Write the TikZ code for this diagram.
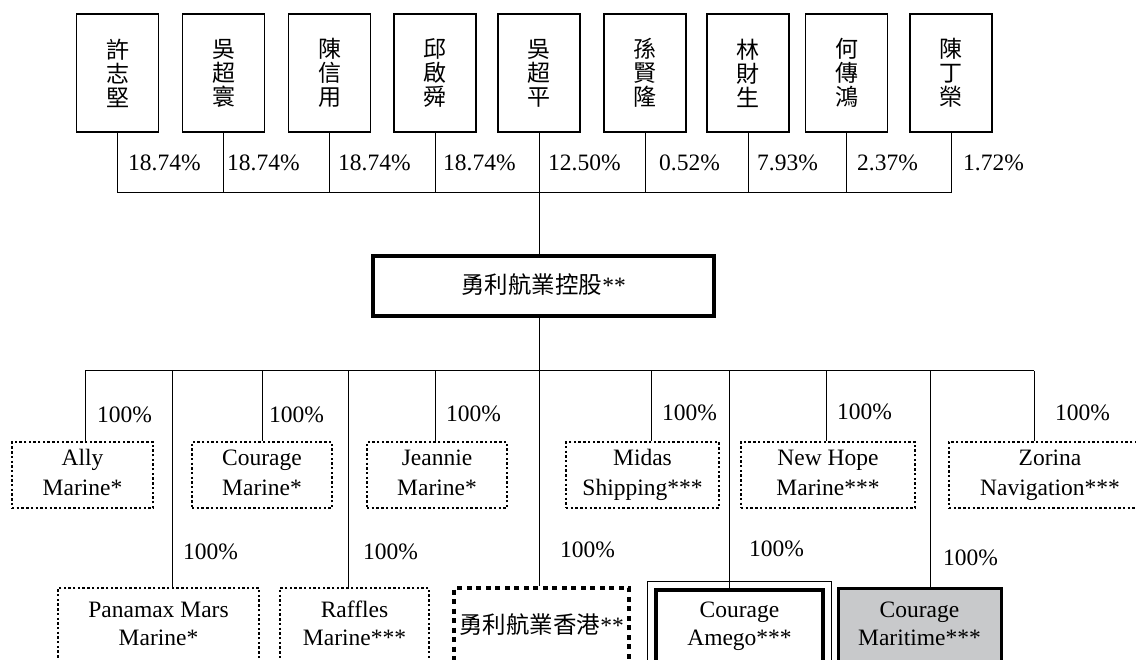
\documentclass[tikz,border=0pt]{standalone}
\usepackage{fontspec}
\setmainfont{Liberation Serif}
\newfontfamily\cjk{Noto Sans CJK TC}
\usepackage{tikz}
\usetikzlibrary{calc}
\definecolor{shade}{RGB}{200,201,203}
\tikzstyle{person}=[draw, line width=1.3pt, minimum width=82pt, minimum height=118pt, inner sep=0pt, align=center, font=\cjk\fontsize{23}{24}\selectfont]
\tikzstyle{pct}=[anchor=west, inner sep=0pt, font=\fontsize{23.5}{28}\selectfont]
\tikzstyle{firm}=[inner sep=0pt, align=center, font=\fontsize{23.5}{28}\selectfont, execute at end node={\rule[-5pt]{0pt}{5pt}}]
\tikzstyle{sub}=[firm, draw, line width=2.5pt, dash pattern=on 2.4pt off 2.3pt, minimum height=66pt, font=\fontsize{23.5}{30}\selectfont]
\tikzstyle{lowsub}=[sub, minimum height=76pt, font=\fontsize{23.5}{28}\selectfont]
\tikzstyle{link}=[line width=1pt]

\begin{document}
\begin{tikzpicture}[x=1pt, y=-1pt]
\path[use as bounding box, clip] (0,0) rectangle (1136,660);
% the shareholders
\node[person] (P1) at (117.5,73) {許\\志\\堅};
\node[person] (P2) at (223.5,73) {吳\\超\\寰};
\node[person] (P3) at (329.5,73) {陳\\信\\用};
\node[person] (P4) at (435,73) {邱\\啟\\舜};
\node[person] (P5) at (539,73) {吳\\超\\平};
\node[person] (P6) at (645,73) {孫\\賢\\隆};
\node[person] (P7) at (748,73) {林\\財\\生};
\node[person] (P8) at (846.5,73) {何\\傳\\鴻};
\node[person] (P9) at (951,73) {陳\\丁\\榮};
% the stakes
\node[pct] (S1) at (128,163) {18.74\%};
\node[pct] (S2) at (227,163) {18.74\%};
\node[pct] (S3) at (338,163) {18.74\%};
\node[pct] (S4) at (443,163) {18.74\%};
\node[pct] (S5) at (548,163) {12.50\%};
\node[pct] (S6) at (659,163) {0.52\%};
\node[pct] (S7) at (757,163) {7.93\%};
\node[pct] (S8) at (857,163) {2.37\%};
\node[pct] (S9) at (963,163) {1.72\%};
\coordinate (TB) at (0,193);
\draw[link] (P1.south) -- (P1.south |- TB) -- (P9.south |- TB) -- (P9.south);
\draw[link] (P2.south) -- (P2.south |- TB);
\draw[link] (P3.south) -- (P3.south |- TB);
\draw[link] (P4.south) -- (P4.south |- TB);
\draw[link] (P6.south) -- (P6.south |- TB);
\draw[link] (P7.south) -- (P7.south |- TB);
\draw[link] (P8.south) -- (P8.south |- TB);
% the holding
\node[firm, draw, line width=3.5pt, minimum width=341pt, minimum height=60pt] (Hold) at (543.5,286) {{\cjk 勇利航業控股}**};
\draw[link] (P5.south) -- (Hold.north -| P5.south);
% the junctions
\coordinate (J1) at (85,371);
\coordinate (J2) at (172,371);
\coordinate (J3) at (262,371);
\coordinate (J4) at (348,371);
\coordinate (J5) at (435,371);
\coordinate (J6) at (539,371);
\coordinate (J7) at (651,371);
\coordinate (J8) at (729,371);
\coordinate (J9) at (826,371);
\coordinate (J10) at (930,371);
\coordinate (J11) at (1034,371);
\draw[link] (J1) -- (J11);
\draw[link] (Hold.south -| J6) -- (J6);
% the subsidiaries
\node[sub, minimum width=141pt] (Ally) at (82.5,475) {Ally\\Marine*};
\node[sub, minimum width=140pt] (Courage) at (262,475) {Courage\\Marine*};
\node[sub, minimum width=140pt] (Jeannie) at (437,475) {Jeannie\\Marine*};
\node[sub, minimum width=153pt] (Midas) at (642.5,475) {Midas\\Shipping***};
\node[sub, minimum width=174pt] (Hope) at (828,475) {New Hope\\Marine***};
\node[sub, minimum width=202pt] (Zorina) at (1050,475) {Zorina\\Navigation***};
\node[lowsub, minimum width=201pt] (Panamax) at (158.5,626) {Panamax Mars\\Marine*};
\node[lowsub, minimum width=149pt] (Raffles) at (354.5,626) {Raffles\\Marine***};
\node[lowsub, line width=3.5pt, dash pattern=on 5pt off 4.5pt, minimum width=175pt] (HK) at (541.5,626) {{\cjk 勇利航業香港}**};
\node[firm, draw, line width=4.5pt, minimum width=167pt, minimum height=72pt] (Amego) at (739.5,626) {Courage\\Amego***};
\draw[line width=1.2pt] ($(Amego.north west)+(-6,-6)$) rectangle ($(Amego.south east)+(6,6)$);
\node[firm, draw, fill=shade, line width=3pt, minimum width=163pt, minimum height=76pt] (Maritime) at (919.5,626) {Courage\\Maritime***};
% the links
\draw[link] (J1) -- (Ally.north -| J1);
\draw[link] (J2) -- (Panamax.north -| J2);
\draw[link] (J3) -- (Courage.north -| J3);
\draw[link] (J4) -- (Raffles.north -| J4);
\draw[link] (J5) -- (Jeannie.north -| J5);
\draw[link] (J6) -- (HK.north -| J6);
\draw[link] (J7) -- (Midas.north -| J7);
\draw[link] (J8) -- (Amego.north -| J8);
\draw[link] (J9) -- (Hope.north -| J9);
\draw[link] (J10) -- (Maritime.north -| J10);
\draw[link] (J11) -- (Zorina.north -| J11);
% the percentages
\node[pct] (A1) at (97,415) {100\%};
\node[pct] (A3) at (269,415) {100\%};
\node[pct] (A5) at (446,414) {100\%};
\node[pct] (A7) at (662,413) {100\%};
\node[pct] (A9) at (837,412) {100\%};
\node[pct] (A11) at (1055,413) {100\%};
\node[pct] (A2) at (183,552) {100\%};
\node[pct] (A4) at (363,552) {100\%};
\node[pct] (A6) at (560,550) {100\%};
\node[pct] (A8) at (749,549) {100\%};
\node[pct] (A10) at (943,558) {100\%};
\end{tikzpicture}
\end{document}
